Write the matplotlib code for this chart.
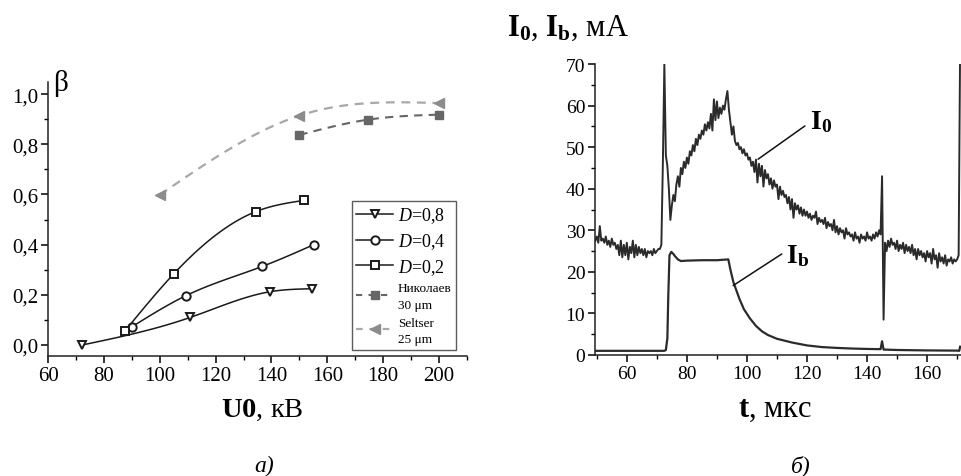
import numpy as np
import matplotlib
matplotlib.use("Agg")
import matplotlib.pyplot as plt
import matplotlib.ticker as mticker
from matplotlib.lines import Line2D

plt.rcParams["font.family"] = ["Liberation Serif", "DejaVu Serif"]
plt.rcParams["mathtext.fontset"] = "custom"
plt.rcParams["mathtext.rm"] = "Liberation Serif"
plt.rcParams["mathtext.it"] = "Liberation Serif:italic"
plt.rcParams["mathtext.bf"] = "Liberation Serif:bold"

# ── panel a): beta vs U0 ─────────────────────────
d08_u = [72.3, 111.0, 139.4, 154.6]
d08_b = [0.0, 0.11, 0.212, 0.224]
d04_u = [90.0, 109.5, 136.7, 155.2]
d04_b = [0.072, 0.197, 0.313, 0.40]
d02_u = [87.5, 105.0, 134.3, 151.5]
d02_b = [0.055, 0.283, 0.531, 0.576]
nik_u = [150.0, 174.6, 200.0]
nik_b = [0.837, 0.898, 0.918]
sel_u = [100.0, 150.0, 200.0]
sel_b = [0.598, 0.914, 0.964]

# ── panel б): currents vs time ───────────────────
t_i0 = np.arange(49.5, 171.01, 0.5)
i0 = [27.5,
      28.5, 27.0, 31.0, 27.5, 28.0, 27.0, 28.5, 26.5, 27.5, 26.0,
      28.0, 26.5, 27.0, 25.5, 26.5, 24.0, 27.5, 23.5, 26.5, 24.0,
      27.0, 23.0, 26.0, 24.5, 27.5, 23.5, 26.5, 24.0, 26.0, 24.5,
      25.5, 24.0, 25.5, 23.5, 25.0, 24.5, 25.0, 24.0, 25.5, 24.5,
      25.0, 25.5, 25.5, 26.5, 46.0, 70.0, 48.0, 45.5, 40.0, 32.5,
      36.0, 38.5, 37.0, 41.0, 43.0, 40.5, 45.0, 43.5, 46.5, 45.0,
      47.5, 46.0, 49.0, 48.0, 50.5, 49.0, 52.0, 50.5, 53.0, 52.0,
      54.0, 53.0, 55.5, 54.0, 56.0, 54.5, 58.0, 54.0, 61.5, 56.5,
      61.0, 57.0, 59.5, 58.0, 60.0, 59.0, 61.5, 63.5, 59.0, 56.0,
      53.0, 55.0, 51.5, 50.5, 51.0, 49.5, 50.0, 48.5, 49.5, 48.0,
      48.5, 47.0, 47.5, 45.5, 46.5, 44.0, 47.0, 41.5, 46.0, 43.0,
      45.5, 40.5, 44.5, 42.5, 43.5, 41.0, 42.5, 40.0, 42.0, 40.5,
      41.0, 37.5, 40.5, 38.5, 39.5, 38.0, 38.5, 36.5, 38.0, 35.0,
      37.5, 33.0, 36.5, 35.0, 36.0, 34.0, 35.5, 33.5, 35.0, 33.5,
      34.5, 33.0, 34.0, 32.5, 33.5, 33.0, 34.5, 31.5, 33.0, 32.0,
      32.5, 31.5, 33.0, 30.5, 32.0, 31.0, 31.5, 30.0, 32.5, 29.5,
      31.0, 29.0, 30.5, 29.5, 30.0, 28.0, 30.5, 29.0, 29.5, 28.5,
      29.0, 27.5, 29.5, 28.0, 28.5, 27.0, 29.0, 28.0, 28.5, 27.5,
      29.5, 28.0, 28.5, 27.5, 29.0, 28.0, 29.5, 28.5, 30.0, 29.0,
      43.0, 8.5, 27.0, 25.0, 27.5, 26.0, 28.0, 26.5, 27.0, 25.5,
      27.5, 25.0, 26.5, 25.5, 27.0, 24.5, 26.5, 25.0, 26.0, 24.5,
      26.5, 24.0, 25.5, 23.0, 25.5, 24.0, 25.0, 23.5, 24.5, 22.5,
      25.0, 23.5, 24.5, 22.0, 25.5, 23.0, 24.0, 21.0, 24.5, 22.5,
      23.5, 22.0, 24.0, 21.5, 23.0, 22.5, 23.5, 22.0, 23.0, 22.5,
      23.0, 24.0, 75.0]

t_ib = [49.5, 72.5, 73.0, 73.5, 73.8, 74.2, 74.8, 75.5, 76.0, 77.0, 78.0,
        80.0, 85.0, 90.0, 93.8, 94.5, 95.5, 96.5, 97.5, 99.0, 101.0, 103.0,
        105.0, 107.0, 110.0, 115.0, 120.0, 125.0, 130.0, 135.0, 140.0,
        144.5, 145.0, 145.5, 146.0, 150.0, 160.0, 170.0, 170.7, 171.0]
ib = [1.0, 1.0, 1.2, 4.0, 14.0, 24.0, 24.8, 24.3, 23.8, 23.0, 22.6,
      22.7, 22.8, 22.8, 23.0, 20.5, 17.5, 15.5, 13.5, 11.0, 8.8, 7.0,
      5.7, 4.8, 3.9, 3.0, 2.3, 1.9, 1.7, 1.55, 1.45,
      1.4, 3.3, 1.3, 1.3, 1.2, 1.1, 1.05, 1.0, 2.0]


def smooth(x, y, n=120):
    # natural cubic spline for the connecting line (Origin-style "spline")
    x = np.asarray(x, float)
    y = np.asarray(y, float)
    k = len(x)
    h = np.diff(x)
    A = np.zeros((k, k))
    r = np.zeros(k)
    A[0, 0] = A[-1, -1] = 1
    for i in range(1, k - 1):
        A[i, i - 1] = h[i - 1]
        A[i, i] = 2 * (h[i - 1] + h[i])
        A[i, i + 1] = h[i]
        r[i] = 3 * ((y[i + 1] - y[i]) / h[i] - (y[i] - y[i - 1]) / h[i - 1])
    c = np.linalg.solve(A, r)
    b = (y[1:] - y[:-1]) / h - h * (2 * c[:-1] + c[1:]) / 3
    d = (c[1:] - c[:-1]) / (3 * h)
    xs = np.linspace(x[0], x[-1], n)
    idx = np.clip(np.searchsorted(x, xs) - 1, 0, k - 2)
    dx = xs - x[idx]
    return xs, y[idx] + b[idx] * dx + c[idx] * dx ** 2 + d[idx] * dx ** 3


fig = plt.figure(figsize=(9.62, 4.77), dpi=100)
ax1 = fig.add_axes([0.0499, 0.2516, 0.4355, 0.5754])
ax2 = fig.add_axes([0.6185, 0.2537, 0.3805, 0.6100])

for ax in (ax1, ax2):
    ax.spines[["top", "right"]].set_visible(False)
    ax.spines[["left", "bottom"]].set_linewidth(1.1)
    ax.spines[["left", "bottom"]].set_color("#222222")
    ax.tick_params(which="major", direction="out", length=5, width=1.1)
    ax.tick_params(which="minor", direction="out", length=3, width=1)

# ── panel a) ─────────────────────────────────────
series = [
    (d08_u, d08_b, "v", "#1a1a1a"),
    (d04_u, d04_b, "o", "#1a1a1a"),
    (d02_u, d02_b, "s", "#1a1a1a"),
]
for u, b, m, col in series:
    xs, ys = smooth(u, b)
    ax1.plot(xs, ys, color=col, lw=1.1)
    ax1.plot(u, b, ls="none", marker=m, ms=6, mfc="white", mec=col, mew=1.4)

xs, ys = smooth(nik_u, nik_b)
ax1.plot(xs, ys, color="#666666", lw=1.5, ls=(0, (4, 3)))
ax1.plot(nik_u, nik_b, ls="none", marker="s", ms=6, color="#666666")
xs, ys = smooth(sel_u, sel_b)
ax1.plot(xs, ys, color="#a8a8a8", lw=1.6, ls=(0, (4, 3)))
ax1.plot(sel_u, sel_b, ls="none", marker="<", ms=7, color="#8c8c8c")

ax1.set_xlim(60, 210)
ax1.set_ylim(-0.044, 1.05)
ax1.xaxis.set_major_locator(mticker.MultipleLocator(20))
ax1.xaxis.set_minor_locator(mticker.MultipleLocator(10))
ax1.yaxis.set_major_locator(mticker.MultipleLocator(0.2))
ax1.yaxis.set_minor_locator(mticker.MultipleLocator(0.1))
ax1.yaxis.set_major_formatter(
    mticker.FuncFormatter(lambda v, p: f"{v:.1f}".replace(".", ",")))
ax1.tick_params(labelsize=15, pad=2)

handles = [
    Line2D([], [], color="#1a1a1a", lw=1.1, marker="v", ms=6, mfc="white", mew=1.4),
    Line2D([], [], color="#1a1a1a", lw=1.1, marker="o", ms=6, mfc="white", mew=1.4),
    Line2D([], [], color="#1a1a1a", lw=1.1, marker="s", ms=6, mfc="white", mew=1.4),
    Line2D([], [], color="#666666", lw=1.5, ls=(0, (3, 3)), marker="s", ms=6),
    Line2D([], [], color="#a8a8a8", lw=1.6, ls=(0, (3, 3)), marker="<", ms=7,
           mfc="#8c8c8c", mec="#8c8c8c"),
]
labels = [r"$\mathit{D}$=0,8", r"$\mathit{D}$=0,4", r"$\mathit{D}$=0,2",
          "Николаев\n30 μm", "Seltser\n25 μm"]
leg = ax1.legend(handles, labels, loc="upper left",
                 bbox_to_anchor=(0.7255, 0.5647), frameon=True, fancybox=False,
                 edgecolor="#333333", fontsize=13, handlelength=2.0,
                 handletextpad=0.3, borderpad=0.25, labelspacing=0.32,
                 borderaxespad=0)
leg.get_frame().set_linewidth(1.0)
for txt in leg.get_texts()[3:]:
    txt.set_fontsize(9.5)
    txt.set_linespacing(1.5)

ax1.text(61.8, 1.045, "β", fontsize=21, ha="left", va="center")

# ── panel б) ─────────────────────────────────────
ax2.plot(t_i0, i0, color="#2b2b2b", lw=1.4)
ax2.plot(t_ib, ib, color="#2b2b2b", lw=1.6)
ax2.set_xlim(49.4, 171.3)
ax2.set_ylim(0, 70)
ax2.xaxis.set_major_locator(mticker.MultipleLocator(20))
ax2.xaxis.set_minor_locator(mticker.MultipleLocator(10))
ax2.yaxis.set_major_locator(mticker.MultipleLocator(10))
ax2.yaxis.set_minor_locator(mticker.MultipleLocator(5))
ax2.tick_params(labelsize=14, pad=2)

ax2.annotate("", xy=(103.7, 47.1), xytext=(119.3, 55.1),
             arrowprops=dict(arrowstyle="-", color="#111111", lw=1.1,
                             shrinkA=0, shrinkB=0))
ax2.text(121.0, 54.5, r"$\mathbf{I}_\mathbf{0}$", fontsize=20,
         ha="left", va="baseline")
ax2.annotate("", xy=(95.4, 16.7), xytext=(111.6, 24.3),
             arrowprops=dict(arrowstyle="-", color="#111111", lw=1.1,
                             shrinkA=0, shrinkB=0))
ax2.text(113.0, 22.3, r"$\mathbf{I}_\mathbf{b}$", fontsize=20,
         ha="left", va="baseline")

# ── axis titles and captions ─────────────────────
fig.text(0.527, 0.941, r"$\mathbf{I}_\mathbf{0}$, $\mathbf{I}_\mathbf{b}$, мА",
         fontsize=22, ha="left", va="center")
fig.text(262 / 962, 1 - 410 / 477, r"$\mathbf{U0}$, кВ", fontsize=20.5,
         ha="center", va="center")
fig.text(775 / 962, 1 - 410 / 477, r"$\mathbf{t}$, мкс", fontsize=22,
         ha="center", va="center")
fig.text(264 / 962, 1 - 466 / 477, "а)", fontsize=17, style="italic",
         ha="center", va="center")
fig.text(801 / 962, 1 - 466 / 477, "б)", fontsize=17, style="italic",
         ha="center", va="center")

fig.savefig("out.png", dpi=100)
